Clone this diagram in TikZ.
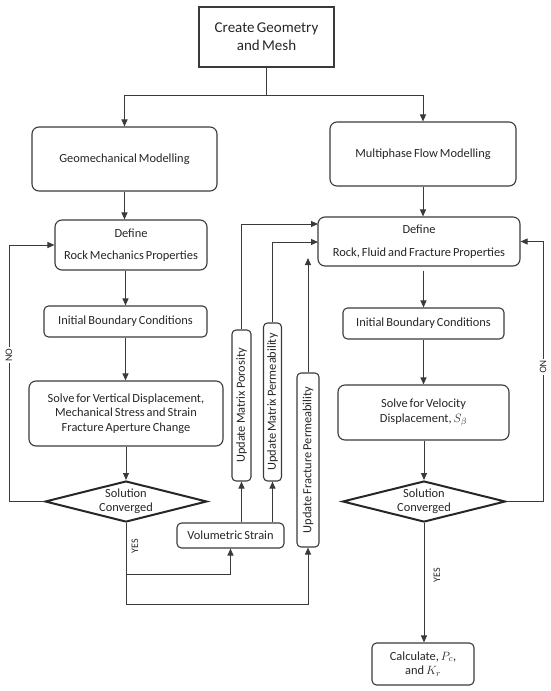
\documentclass[tikz,border=0pt]{standalone}
\usepackage{fontspec}
\setmainfont{Carlito}[WordSpace=0.7]
\usetikzlibrary{arrows.meta,shapes.geometric,calc}
\definecolor{ln}{HTML}{3A3A3A}
\tikzset{
  base/.style={draw=ln, line width=1.1pt, inner sep=0pt, align=center, font=\fontsize{12.4}{14.5}\selectfont, text=black!85},
  sbox/.style={base},
  rbox/.style={base, rounded corners=7pt},
  smbox/.style={base, rounded corners=4.5pt},
  vbox/.style={base, rounded corners=4pt, rotate=90},
  dia/.style={draw=black!85, line width=2pt, diamond, inner sep=0pt},
  conn/.style={draw=ln, line width=1pt},
  arr/.style={conn, -{Triangle[length=7pt,width=6pt]}},
  lab/.style={font=\fontsize{10}{12}\selectfont, text=black!85, inner sep=1.5pt},
}
\begin{document}
\begin{tikzpicture}[x=1pt,y=-1pt]
\useasboundingbox (0,0) rectangle (550,691);
% nodes
\node[sbox, minimum width=135, minimum height=60, font=\fontsize{15}{18}\selectfont] (create) at (266.5,37) {Create Geometry\\and Mesh};
\node[rbox, minimum width=185, minimum height=64] (geo) at (124.5,159) {Geomechanical Modelling};
\node[rbox, minimum width=186, minimum height=64] (multi) at (423,154) {Multiphase Flow Modelling};
\node[rbox, minimum width=152, minimum height=50] (defL) at (131,245) {Define\\[8pt]Rock Mechanics Properties};
\node[rbox, minimum width=202, minimum height=49] (defR) at (419,241.5) {Define\\[8pt]Rock, Fluid and Fracture Properties};
\node[smbox, minimum width=163, minimum height=31] (initL) at (125.5,321.5) {Initial Boundary Conditions};
\node[smbox, minimum width=161, minimum height=31] (initR) at (423.5,323.5) {Initial Boundary Conditions};
\node[rbox, minimum width=194, minimum height=65] (solveL) at (126,413.5) {Solve for Vertical Displacement,\\Mechanical Stress and Strain\\Fracture Aperture Change};
\node[rbox, minimum width=171, minimum height=55] (solveR) at (423.5,412.5) {Solve for Velocity\\Displacement, $S_\beta$};
\node[dia, minimum width=162, minimum height=41] (diaL) at (126,501.5) {};
\node[base, draw=none] (diaLt) at (diaL.center) {Solution\\Converged};
\node[dia, minimum width=163, minimum height=41] (diaR) at (424,501.5) {};
\node[base, draw=none] (diaRt) at (diaR.center) {Solution\\Converged};
\node[smbox, minimum width=102, minimum height=42] (calc) at (423,664) {Calculate, $P_c$,\\and $K_r$};
\node[smbox, minimum width=107, minimum height=25] (vol) at (230.5,535.5) {Volumetric Strain};
\node[vbox, minimum width=151, minimum height=19] (por) at (241.5,405.5) {Update Matrix Porosity};
\node[vbox, minimum width=158, minimum height=18] (perm) at (272.5,402) {Update Matrix Permeability};
\node[vbox, minimum width=174, minimum height=22] (frac) at (308,460) {Update Fracture Permeability};
% coordinates
\coordinate (j) at (266.5,95);
\coordinate (noL) at (9,245);
\coordinate (noR) at (543,241.5);
\coordinate (yb) at (126,604);
\coordinate (yv) at (126,574);
\coordinate (d1) at (318,224);
\coordinate (d2) at (318,242);
\coordinate (d3) at (308,258);
% connectors
\draw[conn] (create.south) -- (j);
\draw[arr] (j) -| (geo.north);
\draw[arr] (j) -| (multi.north);
\draw[arr] (geo.south) -- (geo.south |- defL.north);
\draw[arr] (initL.north |- defL.south) -- (initL.north);
\draw[arr] (initL.south) -- (initL.south |- solveL.north);
\draw[arr] (diaL.north |- solveL.south) -- (diaL.north);
\draw[arr] (diaL.west) -| (noL) -- (defL.west);
\node[lab, fill=white, rotate=90] (noLl) at (9,355) {NO};
\draw[conn] (diaL.south) -- (yb);
\draw[arr] (yb) -| (frac.west);
\draw[arr] (yv) -| (vol.south);
\node[lab, rotate=90] (yesL) at (135,546) {YES};
\draw[arr] (por.west |- vol.north) -- (por.west);
\draw[arr] (perm.west |- vol.north) -- (perm.west);
\draw[arr] (por.east) |- (d1);
\draw[arr] (perm.east) |- (d2);
\draw[arr] (frac.east) -- (d3);
\draw[arr] (multi.south) -- (multi.south |- defR.north);
\draw[arr] ([yshift=-4pt]initR.north |- defR.south) -- (initR.north);
\draw[arr] (initR.south) -- (initR.south |- solveR.north);
\draw[arr] (diaR.north |- solveR.south) -- (diaR.north);
\draw[arr] (diaR.south) -- (diaR.south |- calc.north);
\draw[arr] (diaR.east) -| (noR) -- (defR.east);
\node[lab, fill=white, rotate=-90] (noRl) at (543,367) {NO};
\node[lab, rotate=90] (yesR) at (437,575) {YES};
\end{tikzpicture}
\end{document}
